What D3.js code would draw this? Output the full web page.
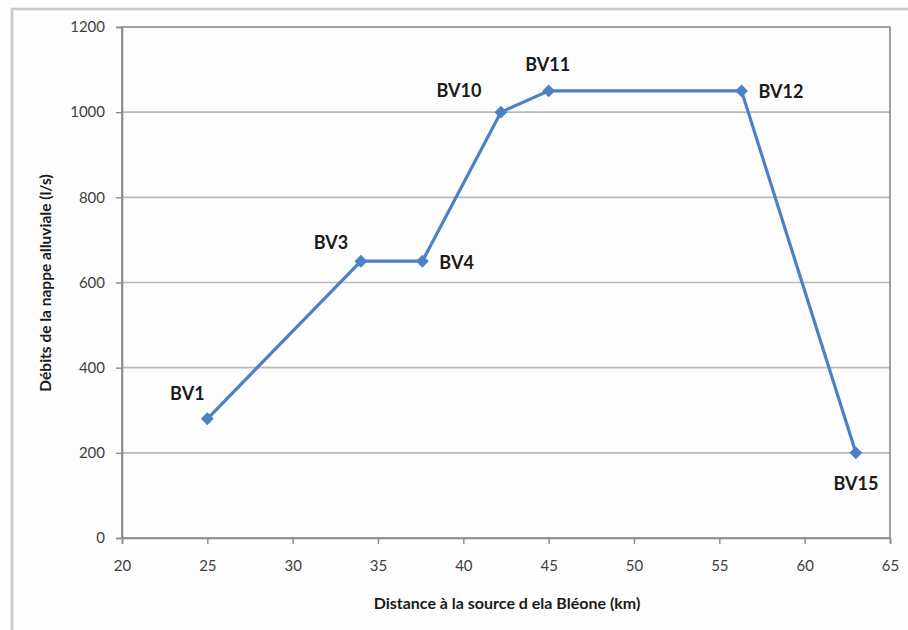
<!DOCTYPE html>
<html>
<head>
<meta charset="utf-8">
<script src="https://cdn.jsdelivr.net/npm/d3@7"></script>
<style>
  html, body { margin: 0; padding: 0; background: #ffffff; }
  svg { display: block; }
  text { font-family: Lato, "Liberation Sans", Arial, sans-serif; }
</style>
</head>
<body>
<svg id="chart" width="908" height="630"></svg>
<script>
// Stations along the Bléone: distance from the source (km) and alluvial flow (l/s)
const stations  = ["BV1", "BV3", "BV4", "BV10", "BV11", "BV12", "BV15"];
const distances = [25, 34, 37.6, 42.2, 45, 56.3, 63];
const flows     = [280, 650, 650, 1000, 1050, 1050, 200];

const xTicks = [20, 25, 30, 35, 40, 45, 50, 55, 60, 65];
const yTicks = [0, 200, 400, 600, 800, 1000, 1200];

const xTitle = "Distance à la source d ela Bléone (km)";
const yTitle = "Débits de la nappe alluviale (l/s)";

const W = 908, H = 630;
const plot = { left: 122, right: 890, top: 27, bottom: 538 };

const svg = d3.select("#chart");

// outer chart frame (only the top and left edges are visible)
svg.append("rect").attr("x", 0).attr("y", 0).attr("width", W).attr("height", H).attr("fill", "#fdfdfd");
svg.append("path")
  .attr("d", `M12,${H} L12,9 L${W},9`)
  .attr("fill", "none").attr("stroke", "#c9c9c9").attr("stroke-width", 2.5);

const x = d3.scaleLinear().domain([20, 65]).range([plot.left, plot.right]);
const y = d3.scaleLinear().domain([0, 1200]).range([plot.bottom, plot.top]);

// horizontal gridlines
svg.append("g")
  .selectAll("line")
  .data(yTicks.filter(v => v > 0 && v < 1200))
  .join("line")
  .attr("x1", plot.left).attr("x2", plot.right)
  .attr("y1", d => y(d)).attr("y2", d => y(d))
  .attr("stroke", "#b9b9b9").attr("stroke-width", 1.6);

// plot area border
svg.append("rect")
  .attr("x", plot.left).attr("y", plot.top)
  .attr("width", plot.right - plot.left).attr("height", plot.bottom - plot.top)
  .attr("fill", "none").attr("stroke", "#8a8a8a").attr("stroke-width", 1.6);

// axes
const xAxis = svg.append("g")
  .attr("transform", `translate(0,${plot.bottom})`)
  .call(d3.axisBottom(x).tickValues(xTicks).tickSize(6).tickPadding(16).tickFormat(d3.format("d")));
const yAxis = svg.append("g")
  .attr("transform", `translate(${plot.left},0)`)
  .call(d3.axisLeft(y).tickValues(yTicks).tickSize(6).tickPadding(11).tickFormat(d3.format("d")));

[xAxis, yAxis].forEach(g => {
  g.select(".domain").attr("stroke", "#8a8a8a").attr("stroke-width", 1.6);
  g.selectAll(".tick line").attr("stroke", "#8a8a8a").attr("stroke-width", 1.4);
  g.selectAll(".tick text")
    .attr("fill", "#3f3f3f")
    .style("font-size", "15px")
    .style("font-family", "Lato, 'Liberation Sans', Arial, sans-serif");
});

// axis titles
svg.append("text")
  .attr("x", 507).attr("y", 602)
  .attr("text-anchor", "middle").attr("dominant-baseline", "central")
  .attr("font-size", 16).attr("font-weight", "bold").attr("fill", "#1a1a1a")
  .text(xTitle);

svg.append("text")
  .attr("transform", "translate(45,283) rotate(-90)")
  .attr("text-anchor", "middle").attr("dominant-baseline", "central")
  .attr("font-size", 15.5).attr("font-weight", "bold").attr("fill", "#1a1a1a")
  .text(yTitle);

// data series
const pts = stations.map((s, i) => ({ name: s, d: distances[i], q: flows[i] }));
const lineColor = "#4a82c3";

svg.append("path")
  .datum(pts)
  .attr("d", d3.line().x(p => x(p.d)).y(p => y(p.q)))
  .attr("fill", "none").attr("stroke", lineColor)
  .attr("stroke-width", 3.2).attr("stroke-linejoin", "round");

svg.append("g")
  .selectAll("path")
  .data(pts)
  .join("path")
  .attr("transform", p => `translate(${x(p.d)},${y(p.q)})`)
  .attr("d", d3.symbol(d3.symbolDiamond2, 105))
  .attr("fill", lineColor);

// station labels: offset from each marker
const labelOffsets = {
  BV1:  { dx: -20, dy: -26, anchor: "middle" },
  BV3:  { dx: -30, dy: -19, anchor: "middle" },
  BV4:  { dx: 17,  dy: 1,   anchor: "start" },
  BV10: { dx: -42, dy: -22, anchor: "middle" },
  BV11: { dx: -1,  dy: -27, anchor: "middle" },
  BV12: { dx: 17,  dy: 0,   anchor: "start" },
  BV15: { dx: 0,   dy: 30,  anchor: "middle" }
};

svg.append("g")
  .selectAll("text")
  .data(pts)
  .join("text")
  .attr("x", p => x(p.d) + labelOffsets[p.name].dx)
  .attr("y", p => y(p.q) + labelOffsets[p.name].dy)
  .attr("text-anchor", p => labelOffsets[p.name].anchor)
  .attr("dominant-baseline", "central")
  .attr("font-size", 18).attr("font-weight", "bold").attr("fill", "#1a1a1a")
  .text(p => p.name);
</script>
</body>
</html>
